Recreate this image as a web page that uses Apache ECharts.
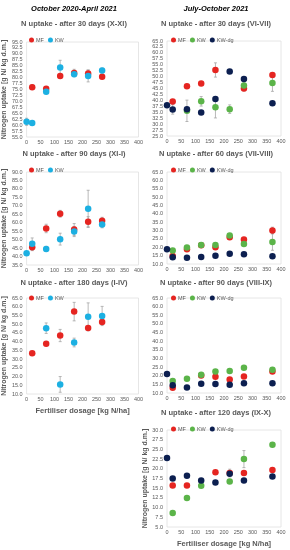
<!DOCTYPE html>
<html><head><meta charset="utf-8">
<script src="https://cdn.jsdelivr.net/npm/echarts@6/dist/echarts.min.js"></script>
<style>html,body{margin:0;padding:0;background:#fff}#c{width:290px;height:550px}</style>
</head><body><div id="c"></div>
<script>
// ---- data ----
const dosesLeft = [0, 20, 70, 120, 170, 220, 270];
const dosesRight = [0, 20, 70, 120, 170, 220, 270, 370];

// Left column: October 2020-April 2021
const mf30L = [null, 76, 75.3, 80.7, 82, 81.7, 80.4];
const mf30Lerr = [0, 1, 0.8, 0.5, 1.5, 1.5, 0.5];
const kw30L = [61.4, 60.9, 74.1, 84.3, 81.4, 80.7, 83];
const kw30Lerr = [1.5, 0.5, 0.8, 3, 1, 2.5, 1];

const mf90L = [null, 45.5, 56.6, 65.3, 56, 60.6, 61.2];
const mf90Lerr = [0, 2, 2.5, 2, 3.5, 3, 2];
const kw90L = [42, 47.5, 44.5, 50.3, 54.8, 68.2, 59];
const kw90Lerr = [0, 3.5, 1.5, 3.5, 3, 11, 2];

const mf180L = [null, 33.3, 38.8, 43.5, 57.2, 47.8, 51.2];
const mf180Lerr = [0, 0, 0, 3.5, 5.3, 0, 0];
const kw180L = [null, null, 47.7, 15.5, 39.5, 54.2, 54.7];
const kw180Lerr = [0, 0, 3, 4.5, 2.5, 8, 5.5];

// Right column: July-October 2021
const mf30R = [null, 39.5, 45.9, 47.1, 52.8, null, 45, 50.7];
const mf30Rerr = [0, 0, 0, 0, 3, 0, 1, 0];
const kw30R = [null, null, 35.6, 39.6, 37.1, 36.3, 46.3, 47.3];
const kw30Rerr = [0, 0, 4.5, 2, 4.5, 1.8, 1, 3.5];
const dg30R = [38, 36.2, 36.3, 34.9, 40.6, 52.2, 49, 38.8];
const dg30Rerr = [0, 2, 0, 0, 0, 0, 0, 0];

const mf60R = [null, 14.8, 18.8, 21.2, 20, 26, 24.6, 30];
const mf60Rerr = [0, 0, 0, 0, 0, 0, 1, 2];
const kw60R = [null, 18, 19.8, 21.4, 21.4, 27, 22, 23.2];
const kw60Rerr = [0, 0, 0, 0, 0, 0, 0, 5];
const dg60R = [18.8, 14, 13.8, 14.2, 15, 16.2, 15.8, 14.6];
const dg60Rerr = [0, 0, 0, 0, 0, 0, 0, 0];

const mf90R = [null, 13, null, 20.2, 19.4, 17.8, 19.6, 22.5];
const mf90Rerr = [0, 0, 0, 0, 0, 0, 0, 0];
const kw90R = [null, 17, 18.3, 20.5, 22.4, 22.8, 24.6, 23.5];
const kw90Rerr = [0, 0, 0, 0, 0, 0, 0, 0];
const dg90R = [21, 14.5, 13.2, 15.4, 15.2, 14.8, 15.7, 15.7];
const dg90Rerr = [0, 0, 0, 0, 0, 0, 0, 0];

const mf120R = [null, 15.7, 15.7, null, 19.1, 18.9, 18.9, 19.7];
const mf120Rerr = [0, 0, 0, 0, 0, 1, 0, 0];
const kw120R = [null, 8.6, 12.5, 15.6, null, 16.7, 22.5, 26.2];
const kw120Rerr = [0, 0, 0, 0, 0, 0, 2.2, 0];
const dg120R = [22.8, 17.5, 18.2, 17.0, 16.5, 18.7, 17.0, 18.0];
const dg120Rerr = [0, 0, 0, 0, 0, 0, 0, 0];

const headers = ['October 2020-April 2021', 'July-October 2021'];
const panelTitles = [
  'N uptake - after 30 days (X-XI)', 'N uptake - after 90 days (XI-I)', 'N uptake - after 180 days (I-IV)',
  'N uptake - after 30 days (VI-VII)', 'N uptake - after 60 days (VII-VIII)', 'N uptake - after 90 days (VIII-IX)', 'N uptake - after 120 days (IX-X)'
];
const yName = 'Nitrogen uptake [g N/ kg d.m.]';
const xName = 'Fertiliser dosage [kg N/ha]';

// ---- styles / layout ----
const C_MF = '#e52521', C_KWL = '#1cb0e2', C_KWR = '#5bb449', C_DG = '#0c1f50';
const GRAY = '#595959';

const panels = [
  {grid:{left:26, top:42, width:112.5, height:95}, y:[55,95,2.5], x:dosesLeft, title:panelTitles[0], tx:74, ty:24, lg:{left:24, top:32},
   s:[['MF',mf30L,mf30Lerr,C_MF],['KW',kw30L,kw30Lerr,C_KWL]], yname:true},
  {grid:{left:26, top:172, width:112.5, height:93}, y:[35,90,5], x:dosesLeft, title:panelTitles[1], tx:74, ty:154, lg:{left:24, top:162},
   s:[['MF',mf90L,mf90Lerr,C_MF],['KW',kw90L,kw90Lerr,C_KWL]], yname:true},
  {grid:{left:26, top:298, width:112.5, height:96}, y:[10,65,5], x:dosesLeft, title:panelTitles[2], tx:74, ty:283, lg:{left:24, top:290},
   s:[['MF',mf180L,mf180Lerr,C_MF],['KW',kw180L,kw180Lerr,C_KWL]], yname:true, xname:true},
  {grid:{left:167, top:41, width:114, height:95}, y:[25,65,2.5], x:dosesRight, title:panelTitles[3], tx:216, ty:24, lg:{left:166, top:32},
   s:[['MF',mf30R,mf30Rerr,C_MF],['KW',kw30R,kw30Rerr,C_KWR],['KW-dg',dg30R,dg30Rerr,C_DG]]},
  {grid:{left:167, top:172, width:114, height:92}, y:[10,65,5], x:dosesRight, title:panelTitles[4], tx:216, ty:154, lg:{left:166, top:162},
   s:[['MF',mf60R,mf60Rerr,C_MF],['KW',kw60R,kw60Rerr,C_KWR],['KW-dg',dg60R,dg60Rerr,C_DG]]},
  {grid:{left:167, top:298, width:114, height:95}, y:[10,65,5], x:dosesRight, title:panelTitles[5], tx:216, ty:283, lg:{left:166, top:290},
   s:[['MF',mf90R,mf90Rerr,C_MF],['KW',kw90R,kw90Rerr,C_KWR],['KW-dg',dg90R,dg90Rerr,C_DG]]},
  {grid:{left:167, top:430, width:114, height:97}, y:[5,30,2.5], x:dosesRight, title:panelTitles[6], tx:216, ty:413, lg:{left:166, top:421},
   s:[['MF',mf120R,mf120Rerr,C_MF],['KW',kw120R,kw120Rerr,C_KWR],['KW-dg',dg120R,dg120Rerr,C_DG]], yname:true, ynameGap:15, xname:true}
];

function renderErr(params, api){
  const x = api.value(0), y = api.value(1), e = api.value(2);
  const t = api.coord([x, y + e]), b = api.coord([x, y - e]);
  const st = {stroke:'#a6a6a6', lineWidth:0.8};
  return {type:'group', children:[
    {type:'line', shape:{x1:t[0], y1:t[1], x2:b[0], y2:b[1]}, style:st},
    {type:'line', shape:{x1:t[0]-1.5, y1:t[1], x2:t[0]+1.5, y2:t[1]}, style:st},
    {type:'line', shape:{x1:b[0]-1.5, y1:b[1], x2:b[0]+1.5, y2:b[1]}, style:st}
  ]};
}

const grid = [], xAxis = [], yAxis = [], series = [], legend = [], graphic = [];
panels.forEach((p, i) => {
  grid.push(Object.assign({show:true, borderColor:'#e0e0e0', borderWidth:0.8, backgroundColor:'#fff'}, p.grid));
  xAxis.push({type:'value', gridIndex:i, min:0, max:400, interval:50,
    axisLine:{show:false}, axisTick:{show:false}, splitLine:{show:false},
    axisLabel:{fontSize:5.5, color:GRAY, margin:2, fontFamily:'Liberation Sans'},
    name: p.xname ? xName : '', nameLocation:'middle', nameGap:13,
    nameTextStyle:{fontSize:7.5, fontWeight:'bold', color:GRAY, fontFamily:'Liberation Sans'}});
  yAxis.push({type:'value', gridIndex:i, min:p.y[0], max:p.y[1], interval:p.y[2],
    axisLine:{show:false}, axisTick:{show:false}, splitLine:{show:false},
    axisLabel:{fontSize:5.5, color:GRAY, margin:4, formatter:v => v.toFixed(1), fontFamily:'Liberation Sans'},
    name: p.yname ? yName : '', nameLocation:'middle', nameGap: p.ynameGap || 17,
    nameTextStyle:{fontSize:7, fontWeight:'bold', color:GRAY, fontFamily:'Liberation Sans'}});
  p.s.forEach(([name, vals, errs, color]) => {
    const errData = [];
    p.x.forEach((d, k) => { if (vals[k] != null && errs[k] > 0) errData.push([d, vals[k], errs[k]]); });
    series.push({type:'custom', name:'err'+name+i, xAxisIndex:i, yAxisIndex:i, renderItem:renderErr,
      data:errData, encode:{x:0, y:1}, z:1, silent:true});
  });
  p.s.forEach(([name, vals, errs, color]) => {
    series.push({type:'scatter', name:name, xAxisIndex:i, yAxisIndex:i, symbol:'circle', symbolSize:6.5,
      itemStyle:{color:color, opacity:1}, z:3,
      data:p.x.map((d, k) => vals[k] == null ? null : [d, vals[k]]).filter(v => v)});
  });
  legend.push({left:p.lg.left, top:p.lg.top, icon:'circle', itemWidth:5, itemHeight:5, itemGap:4,
    selectedMode:false, textStyle:{fontSize:5.5, color:GRAY, padding:[0,0,0,-3], fontFamily:'Liberation Sans'},
    data:p.s.map(s => ({name:s[0], itemStyle:{color:s[3]}}))});
  graphic.push({type:'text', x:p.tx, y:p.ty, style:{text:p.title, fontSize:7.5, fontWeight:'bold',
    fill:GRAY, align:'center', verticalAlign:'middle', fontFamily:'Liberation Sans'}});
});
graphic.push({type:'text', x:74, y:9, style:{text:headers[0], fontSize:7.5, fontWeight:'bold', fontStyle:'italic',
  fill:'#000', align:'center', verticalAlign:'middle', fontFamily:'Liberation Sans'}});
graphic.push({type:'text', x:216, y:9, style:{text:headers[1], fontSize:7.5, fontWeight:'bold', fontStyle:'italic',
  fill:'#000', align:'center', verticalAlign:'middle', fontFamily:'Liberation Sans'}});

const chart = echarts.init(document.getElementById('c'), null, {renderer:'canvas'});
chart.setOption({animation:false, backgroundColor:'#fff', grid, xAxis, yAxis, series, legend, graphic});
</script></body></html>
